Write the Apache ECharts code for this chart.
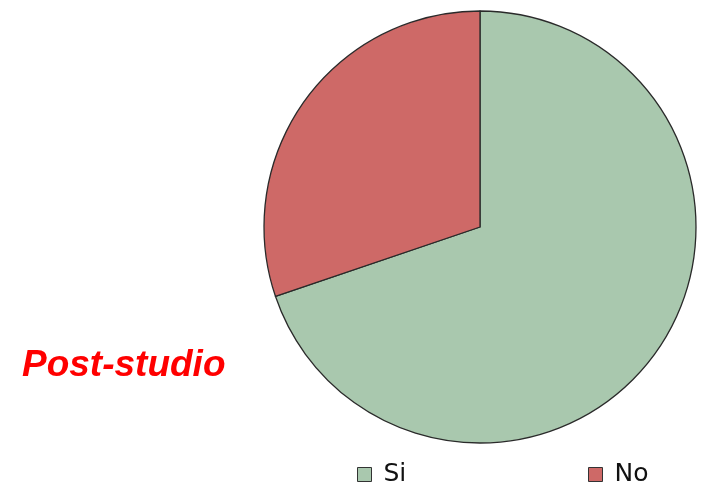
<!DOCTYPE html>
<html>
<head>
<meta charset="utf-8">
<script src="https://cdn.jsdelivr.net/npm/echarts@6/dist/echarts.min.js"></script>
<style>
  html, body { margin: 0; padding: 0; background: #fff; }
  #chart { width: 703px; height: 486px; }
</style>
</head>
<body>
<div id="chart"></div>
<script>
// Answers to the question after the study (percent of respondents)
const categories = ['Si', 'No'];
const shares = [69.8, 30.2];
const sliceColors = ['#a9c8ae', '#ce6967'];
const titleText = 'Post-studio';

const chart = echarts.init(document.getElementById('chart'), null, { renderer: 'canvas' });

const legendText = {
  fontFamily: 'DejaVu Sans',
  fontSize: 25,
  color: '#111111',
  padding: [0, 0, 0, 7]
};

function legendFor(name, left) {
  return {
    data: [name],
    left: left,
    top: 462,
    padding: 0,
    icon: 'rect',
    itemWidth: 14,
    itemHeight: 14,
    itemStyle: { borderColor: '#333', borderWidth: 1 },
    textStyle: legendText,
    selectedMode: false
  };
}

chart.setOption({
  animation: false,
  backgroundColor: '#ffffff',
  title: {
    text: titleText,
    left: 17,
    top: 342,
    textStyle: {
      fontFamily: 'Liberation Sans',
      fontSize: 37,
      fontStyle: 'italic',
      fontWeight: 'bold',
      color: '#ff0000'
    }
  },
  legend: [legendFor(categories[0], 357), legendFor(categories[1], 588)],
  series: [
    {
      type: 'pie',
      center: [480, 227],
      radius: 216,
      startAngle: 90,
      clockwise: true,
      label: { show: false },
      labelLine: { show: false },
      emphasis: { disabled: true },
      itemStyle: { borderColor: '#2a2a2a', borderWidth: 1.3 },
      data: categories.map((name, i) => ({
        name,
        value: shares[i],
        itemStyle: { color: sliceColors[i] }
      }))
    }
  ]
});
</script>
</body>
</html>
